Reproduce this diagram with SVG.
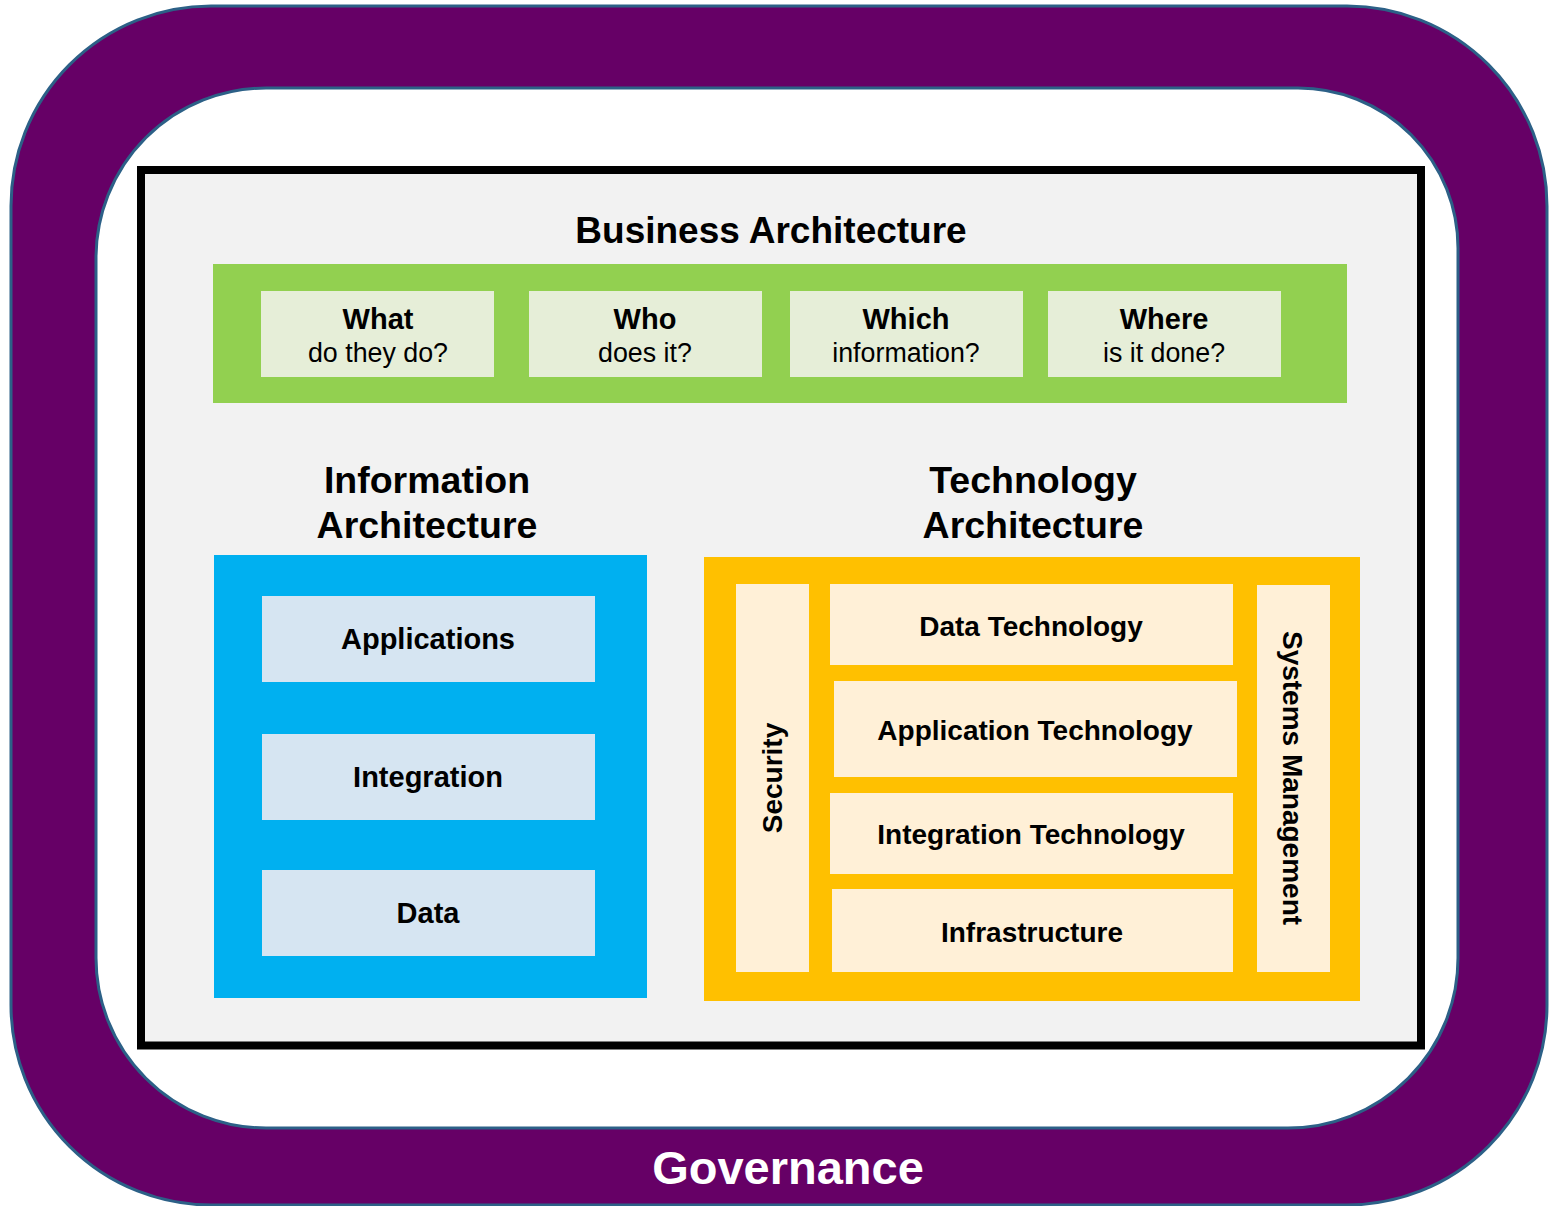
<svg xmlns="http://www.w3.org/2000/svg" width="1549" height="1206" viewBox="0 0 1549 1206">
<style>
text{font-family:"Liberation Sans",Arial,sans-serif;fill:#000;text-anchor:middle}
.h{font-weight:bold;font-size:37.5px}
.q{font-weight:bold;font-size:29px}
.s{font-size:26.8px}
.b{font-weight:bold;font-size:29px}
.t{font-weight:bold;font-size:28px}
.qbox{fill:#E6EED8}
.ibox{fill:#D6E5F2}
.tbox{fill:#FFF0D7}
</style>
<rect width="1549" height="1206" fill="#FFFFFF"/>
<g id="governance">
<path fill="#660066" fill-rule="evenodd" stroke="#2C6087" stroke-width="3" d="M211,6 H1347 A200,200 0 0 1 1547,206 V1005 A200,200 0 0 1 1347,1205 H211 A200,200 0 0 1 11,1005 V206 A200,200 0 0 1 211,6 Z M266,88 H1298 A160,160 0 0 1 1458,248 V958 A170,170 0 0 1 1288,1128 H266 A170,170 0 0 1 96,958 V258 A170,170 0 0 1 266,88 Z"/>
<text x="788" y="1184" style="font-weight:bold;font-size:47px;fill:#FFFFFF">Governance</text>
</g>
<g id="frame">
<rect x="141" y="170" width="1280" height="875.5" fill="#F2F2F2" stroke="#000" stroke-width="8"/>
</g>
<g id="business">
<text x="771" y="243" style="font-weight:bold;font-size:37px">Business Architecture</text>
<rect x="213" y="264" width="1134" height="139" fill="#92D050"/>
<g id="what"><rect class="qbox" x="261" y="291" width="233" height="86"/><text class="q" x="378" y="329">What</text><text class="s" x="378" y="362">do they do?</text></g>
<g id="who"><rect class="qbox" x="529" y="291" width="233" height="86"/><text class="q" x="645" y="329">Who</text><text class="s" x="645" y="362">does it?</text></g>
<g id="which"><rect class="qbox" x="790" y="291" width="233" height="86"/><text class="q" x="906" y="329">Which</text><text class="s" x="906" y="362">information?</text></g>
<g id="where"><rect class="qbox" x="1048" y="291" width="233" height="86"/><text class="q" x="1164" y="329">Where</text><text class="s" x="1164" y="362">is it done?</text></g>
</g>
<g id="information">
<text class="h" x="427" y="493">Information</text>
<text class="h" x="427" y="538">Architecture</text>
<rect x="214" y="555" width="433" height="443" fill="#00B0F0"/>
<g id="applications"><rect class="ibox" x="262" y="596" width="333" height="86"/><text class="b" x="428" y="649">Applications</text></g>
<g id="integration"><rect class="ibox" x="262" y="734" width="333" height="86"/><text class="b" x="428" y="787">Integration</text></g>
<g id="data"><rect class="ibox" x="262" y="870" width="333" height="86"/><text class="b" x="428" y="923">Data</text></g>
</g>
<g id="technology">
<text class="h" x="1033" y="493">Technology</text>
<text class="h" x="1033" y="538">Architecture</text>
<rect x="704" y="557" width="656" height="444" fill="#FFC000"/>
<g id="security"><rect class="tbox" x="736" y="584" width="73" height="388"/><text class="t" transform="translate(782,778) rotate(-90)">Security</text></g>
<g id="data-technology"><rect class="tbox" x="830" y="584" width="403" height="81"/><text class="t" x="1031" y="636">Data Technology</text></g>
<g id="application-technology"><rect class="tbox" x="834" y="681" width="403" height="96"/><text class="t" x="1035" y="740">Application Technology</text></g>
<g id="integration-technology"><rect class="tbox" x="830" y="793" width="403" height="81"/><text class="t" x="1031" y="844">Integration Technology</text></g>
<g id="infrastructure"><rect class="tbox" x="832" y="889" width="401" height="83"/><text class="t" x="1032" y="942">Infrastructure</text></g>
<g id="systems-management"><rect class="tbox" x="1257" y="585" width="73" height="387"/><text class="t" transform="translate(1283,778) rotate(90)">Systems Management</text></g>
</g>
</svg>
